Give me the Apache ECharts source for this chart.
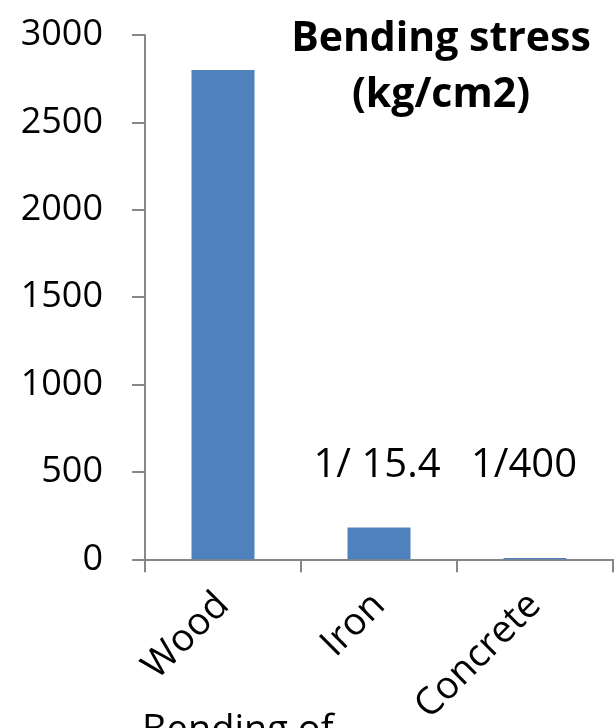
<!DOCTYPE html>
<html>
<head>
<meta charset="utf-8">
<script src="https://cdn.jsdelivr.net/npm/echarts@6/dist/echarts.min.js"></script>
<style>
  html, body { margin: 0; padding: 0; background: #ffffff; }
  #chart { width: 616px; height: 728px; }
</style>
</head>
<body>
<div id="chart"></div>
<script>
// Bending stress by material
const categories = ['Wood', 'Iron', 'Concrete'];
const stressValues = [2800, 181.8, 7];
const ratioLabels = ['1/ 15.4', '1/400'];
const ratioCategories = ['Iron', 'Concrete'];
const ratioLevel = 525;
const yTicks = [0, 500, 1000, 1500, 2000, 2500, 3000];

const FONT = '"Open Sans", "Liberation Sans", sans-serif';

const chart = echarts.init(document.getElementById('chart'), null, { renderer: 'canvas' });

chart.setOption({
  animation: false,
  backgroundColor: '#ffffff',
  grid: { left: 145, right: 3, top: 35, bottom: 168 },
  title: {
    text: 'Bending stress\n(kg/cm2)',
    left: 436,
    top: 6,
    textAlign: 'center',
    textStyle: {
      fontFamily: FONT,
      fontWeight: 'bold',
      fontSize: 41,
      lineHeight: 56,
      color: '#000000'
    }
  },
  xAxis: {
    type: 'category',
    data: categories,
    axisLine: { lineStyle: { color: '#878787', width: 2 } },
    axisTick: { show: true, length: 13, alignWithLabel: false, lineStyle: { color: '#878787', width: 2 } },
    axisLabel: {
      rotate: 45,
      margin: 40,
      fontFamily: FONT,
      fontSize: 38,
      color: '#000000'
    }
  },
  yAxis: {
    type: 'value',
    min: yTicks[0],
    max: yTicks[yTicks.length - 1],
    interval: 500,
    splitLine: { show: false },
    axisLine: { show: true, lineStyle: { color: '#878787', width: 2 } },
    axisTick: { show: true, length: 13, lineStyle: { color: '#878787', width: 2 } },
    axisLabel: {
      margin: 42,
      fontFamily: FONT,
      fontSize: 36,
      color: '#000000',
      formatter: v => String(v)
    }
  },
  graphic: [{
    type: 'text',
    left: 142,
    top: 712,
    style: {
      text: 'Bending of',
      font: '38px ' + FONT,
      fill: '#000000'
    }
  }],
  series: [
    {
      type: 'bar',
      data: stressValues,
      barWidth: 63,
      itemStyle: { color: '#4F81BD' }
    },
    {
      type: 'scatter',
      symbolSize: 0,
      silent: true,
      itemStyle: { color: '#000000' },
      data: ratioCategories.map((c, i) => ({ value: [c, ratioLevel], name: ratioLabels[i] })),
      label: {
        show: true,
        position: 'inside',
        formatter: p => p.name,
        fontFamily: FONT,
        fontSize: 40,
        color: '#000000',
        textBorderWidth: 0,
        opacity: 1
      },
      labelLayout: (params) => params.dataIndex === 1 ? { dx: -11, dy: -2 } : { dx: -2, dy: -2 }
    }
  ]
});
</script>
</body>
</html>
